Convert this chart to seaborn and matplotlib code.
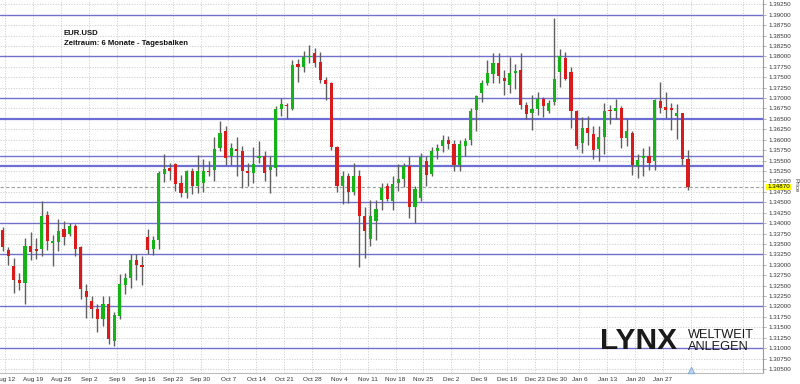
import numpy as np
import pandas as pd
import matplotlib
matplotlib.use("Agg")
import matplotlib.pyplot as plt
import matplotlib.transforms as mtransforms
import seaborn as sns

# ---------------- data (EUR.USD daily bars) ----------------
opens = [1.3383, 1.3336, 1.3298, 1.3264, 1.3257, 1.3346, 1.3337, 1.3339, 1.3419, 1.3352,
         1.3355, 1.3387, 1.3374, 1.3393, 1.3342, 1.3236, 1.3212, 1.3194, 1.3171, 1.3206,
         1.3118, 1.3178, 1.3252, 1.3268, 1.3311, 1.3300, 1.3367, 1.3339, 1.3359, 1.3518,
         1.3533, 1.3542, 1.3496, 1.3472, 1.3524, 1.3488, 1.3497, 1.3526, 1.3528, 1.3580,
         1.3622, 1.3562, 1.3577, 1.3572, 1.3524, 1.3521, 1.3557, 1.3561, 1.3528, 1.3532,
         1.3674, 1.3684, 1.3674, 1.3782, 1.3775, 1.3799, 1.3807, 1.3786, 1.3743, 1.3736,
         1.3582, 1.3488, 1.3512, 1.3474, 1.3514, 1.3418, 1.3362, 1.3406, 1.3456, 1.3488,
         1.3454, 1.3496, 1.3506, 1.3537, 1.3438, 1.3460, 1.3550, 1.3518, 1.3572, 1.3585,
         1.3600, 1.3590, 1.3540, 1.3585, 1.3600, 1.3672, 1.3712, 1.3737, 1.3758, 1.3785,
         1.3749, 1.3731, 1.3761, 1.3767, 1.3684, 1.3664, 1.3673, 1.3697, 1.3668, 1.3691,
         1.3763, 1.3797, 1.3763, 1.3668, 1.3593, 1.3628, 1.3614, 1.3577, 1.3606, 1.3672,
         1.3669, 1.3677, 1.3604, 1.3617, 1.3536, 1.3556, 1.3560, 1.3548, 1.3694, 1.3678,
         1.3676, 1.3656, 1.3664, 1.3554]
highs = [1.3390, 1.3342, 1.3317, 1.3281, 1.3365, 1.3378, 1.3365, 1.3452, 1.3428, 1.3372,
         1.3410, 1.3404, 1.3400, 1.3399, 1.3344, 1.3255, 1.3224, 1.3205, 1.3224, 1.3224,
         1.3186, 1.3279, 1.3280, 1.3326, 1.3326, 1.3320, 1.3387, 1.3370, 1.3524, 1.3566,
         1.3545, 1.3545, 1.3516, 1.3528, 1.3532, 1.3564, 1.3554, 1.3548, 1.3606, 1.3646,
         1.3632, 1.3592, 1.3606, 1.3584, 1.3545, 1.3582, 1.3598, 1.3572, 1.3560, 1.3681,
         1.3701, 1.3689, 1.3791, 1.3793, 1.3814, 1.3827, 1.3819, 1.3811, 1.3751, 1.3738,
         1.3584, 1.3524, 1.3520, 1.3545, 1.3528, 1.3438, 1.3456, 1.3456, 1.3496, 1.3496,
         1.3512, 1.3542, 1.3545, 1.3560, 1.3488, 1.3568, 1.3561, 1.3583, 1.3590, 1.3612,
         1.3608, 1.3600, 1.3600, 1.3605, 1.3676, 1.3707, 1.3744, 1.3791, 1.3809, 1.3809,
         1.3767, 1.3798, 1.3782, 1.3807, 1.3691, 1.3708, 1.3715, 1.3702, 1.3696, 1.3891,
         1.3817, 1.3811, 1.3775, 1.3672, 1.3654, 1.3656, 1.3633, 1.3632, 1.3688, 1.3684,
         1.3697, 1.3680, 1.3649, 1.3620, 1.3566, 1.3580, 1.3584, 1.3697, 1.3739, 1.3715,
         1.3689, 1.3685, 1.3665, 1.3576]
lows = [1.3332, 1.3300, 1.3233, 1.3239, 1.3207, 1.3311, 1.3315, 1.3322, 1.3335, 1.3298,
        1.3332, 1.3348, 1.3368, 1.3322, 1.3219, 1.3173, 1.3173, 1.3139, 1.3153, 1.3109,
        1.3105, 1.3169, 1.3231, 1.3244, 1.3264, 1.3252, 1.3326, 1.3323, 1.3338, 1.3498,
        1.3504, 1.3478, 1.3463, 1.3460, 1.3470, 1.3472, 1.3474, 1.3514, 1.3500, 1.3572,
        1.3540, 1.3540, 1.3512, 1.3484, 1.3488, 1.3497, 1.3544, 1.3500, 1.3472, 1.3514,
        1.3657, 1.3649, 1.3672, 1.3739, 1.3763, 1.3783, 1.3775, 1.3736, 1.3696, 1.3576,
        1.3475, 1.3446, 1.3448, 1.3468, 1.3295, 1.3316, 1.3344, 1.3360, 1.3432, 1.3452,
        1.3432, 1.3476, 1.3486, 1.3412, 1.3400, 1.3452, 1.3490, 1.3512, 1.3555, 1.3570,
        1.3578, 1.3526, 1.3525, 1.3560, 1.3588, 1.3620, 1.3691, 1.3731, 1.3737, 1.3737,
        1.3708, 1.3712, 1.3721, 1.3673, 1.3649, 1.3624, 1.3660, 1.3654, 1.3664, 1.3684,
        1.3727, 1.3743, 1.3628, 1.3577, 1.3569, 1.3588, 1.3554, 1.3548, 1.3566, 1.3638,
        1.3649, 1.3580, 1.3584, 1.3516, 1.3508, 1.3514, 1.3528, 1.3528, 1.3665, 1.3652,
        1.3624, 1.3601, 1.3540, 1.3480]
closes = [1.3343, 1.3322, 1.3264, 1.3257, 1.3346, 1.3330, 1.3334, 1.3418, 1.3356, 1.3356,
          1.3382, 1.3366, 1.3394, 1.3339, 1.3242, 1.3222, 1.3193, 1.3171, 1.3207, 1.3122,
          1.3179, 1.3255, 1.3269, 1.3312, 1.3300, 1.3295, 1.3335, 1.3359, 1.3521, 1.3530,
          1.3524, 1.3494, 1.3472, 1.3524, 1.3488, 1.3524, 1.3524, 1.3523, 1.3578, 1.3617,
          1.3557, 1.3580, 1.3573, 1.3524, 1.3520, 1.3542, 1.3561, 1.3521, 1.3534, 1.3674,
          1.3685, 1.3680, 1.3779, 1.3774, 1.3799, 1.3802, 1.3785, 1.3743, 1.3734, 1.3582,
          1.3488, 1.3514, 1.3474, 1.3512, 1.3418, 1.3380, 1.3416, 1.3434, 1.3485, 1.3458,
          1.3494, 1.3506, 1.3536, 1.3438, 1.3482, 1.3558, 1.3516, 1.3572, 1.3580, 1.3600,
          1.3590, 1.3540, 1.3590, 1.3598, 1.3668, 1.3705, 1.3737, 1.3761, 1.3785, 1.3754,
          1.3741, 1.3759, 1.3766, 1.3684, 1.3662, 1.3674, 1.3697, 1.3680, 1.3689, 1.3746,
          1.3801, 1.3745, 1.3670, 1.3584, 1.3628, 1.3616, 1.3576, 1.3606, 1.3668, 1.3669,
          1.3677, 1.3604, 1.3620, 1.3540, 1.3552, 1.3560, 1.3545, 1.3696, 1.3676, 1.3672,
          1.3672, 1.3664, 1.3554, 1.3487]

week_labels = ["Aug 12", "Aug 19", "Aug 26", "Sep 2", "Sep 9", "Sep 16", "Sep 23", "Sep 30",
               "Oct 7", "Oct 14", "Oct 21", "Oct 28", "Nov 4", "Nov 11", "Nov 18", "Nov 25",
               "Dec 2", "Dec 9", "Dec 16", "Dec 23", "Dec 30", "Jan 6", "Jan 13", "Jan 20",
               "Jan 27"]
week_first_bar = [1, 6, 11, 16, 21, 26, 31, 36, 41, 46, 51, 56, 61, 66, 71, 76,
                  81, 86, 91, 96, 100, 104, 109, 114, 119]
future_week_bars = [124, 133.4]

level_lines = [1.3900, 1.3800, 1.3700, 1.3650, 1.3562, 1.3536, 1.3450, 1.3400,
               1.3325, 1.3200, 1.3100]
strong_levels = [1.3650, 1.3536]
last_price = 1.3487

# ---------------- style ----------------
sns.set_theme(style="white")
plt.rcParams["font.family"] = ["Liberation Sans", "DejaVu Sans"]

W, H = 800, 384
fig = plt.figure(figsize=(W / 100, H / 100), dpi=100)
ax_right_px, ax_bottom_px = 763, 373
ax = fig.add_axes([0, 1 - ax_bottom_px / H, ax_right_px / W, ax_bottom_px / H])

df = pd.DataFrame({"open": opens, "high": highs, "low": lows, "close": closes})
df["bar"] = np.arange(len(df))
df["up"] = df["close"] >= df["open"]

GREEN = "#17b217"
RED = "#d81c1c"

# grid
yticks = np.arange(1.3050, 1.39251, 0.0025)
for yv in yticks:
    ax.axhline(yv, color="#cfcfcf", lw=0.7, ls=(0, (1.2, 1.5)), zorder=0)
for xv in list(np.array(week_first_bar) - 0.5) + [b - 0.5 for b in future_week_bars]:
    ax.axvline(xv, color="#cfcfcf", lw=0.7, ls=(0, (1.2, 1.5)), zorder=0)

# support / resistance levels
for lv in level_lines:
    strong = lv in strong_levels
    ax.axhline(lv, color="#5a5ac8" if not strong else "#5555d0",
               lw=1.0 if not strong else 1.6, alpha=0.85, zorder=1)

# last price dashed line
ax.axhline(last_price, color="#a0a0a0", lw=0.8, ls=(0, (3, 2)), zorder=1)

# candles
ax.vlines(df["bar"], df["low"], df["high"], color="#5f5f5f", lw=1.0, zorder=2)
body_h = (df["close"] - df["open"]).abs().clip(lower=0.00012)
body_b = df[["open", "close"]].min(axis=1)
ax.bar(df["bar"], body_h, bottom=body_b, width=0.56,
       color=np.where(df["up"], GREEN, RED), edgecolor="none", zorder=3)

# event marker
sns.scatterplot(x=[future_week_bars[0] - 0.5], y=[1.3048], marker="^", s=22,
                color="#b8d4ee", edgecolor="#7fa6cc", linewidth=0.6, ax=ax,
                zorder=4, clip_on=False, legend=False)

ax.set_xlim(-0.485, 136.45)
ax.set_ylim(1.30404, 1.393527)

# x axis
ax.set_xticks(np.array(week_first_bar) - 0.5)
ax.set_xticklabels(week_labels, fontsize=4.6, color="#333333")
ax.tick_params(axis="x", length=0, pad=3)

# y axis on right
ax.yaxis.tick_right()
ax.set_yticks(yticks)
ax.set_yticklabels([f"{v:.5f}" for v in yticks], fontsize=4.5, color="#333333")
ax.tick_params(axis="y", length=2, width=0.5, color="#999999", pad=2)

for side in ["top", "left"]:
    ax.spines[side].set_visible(False)
ax.spines["right"].set_color("#9a9a9a")
ax.spines["right"].set_linewidth(0.8)
ax.spines["bottom"].set_color("#bdbdbd")
ax.spines["bottom"].set_linewidth(0.8)

# yellow last price tag
trans = mtransforms.blended_transform_factory(ax.transAxes, ax.transData)
ax.text(1.0055, last_price, f"{last_price:.5f}", transform=trans, fontsize=4.5,
        ha="left", va="center", color="black", zorder=10,
        bbox=dict(boxstyle="square,pad=0.12", fc="#ffff00", ec="none"))

fig.text(796 / W, 1 - 185 / H, "Price", rotation=270, fontsize=4.6, color="#444444",
         ha="center", va="center")

# title
fig.text(64 / W, 1 - 33.5 / H, "EUR.USD", fontsize=5.6, fontweight="bold",
         ha="left", va="center", color="#111111")
fig.text(64 / W, 1 - 43.5 / H, "Zeitraum: 6 Monate - Tagesbalken", fontsize=5.6,
         fontweight="bold", ha="left", va="center", color="#111111")

# logo
fig.text(600 / W, 1 - 341 / H, "LYNX", fontsize=21.5, fontweight="bold",
         ha="left", va="center", color="#1a1a1a")
fig.text(688 / W, 1 - 334.5 / H, "WELTWEIT", fontsize=9.2,
         ha="left", va="center", color="#1a1a1a")
fig.text(688 / W, 1 - 347 / H, "ANLEGEN", fontsize=9.2,
         ha="left", va="center", color="#1a1a1a")

fig.savefig("out.png", dpi=100)
